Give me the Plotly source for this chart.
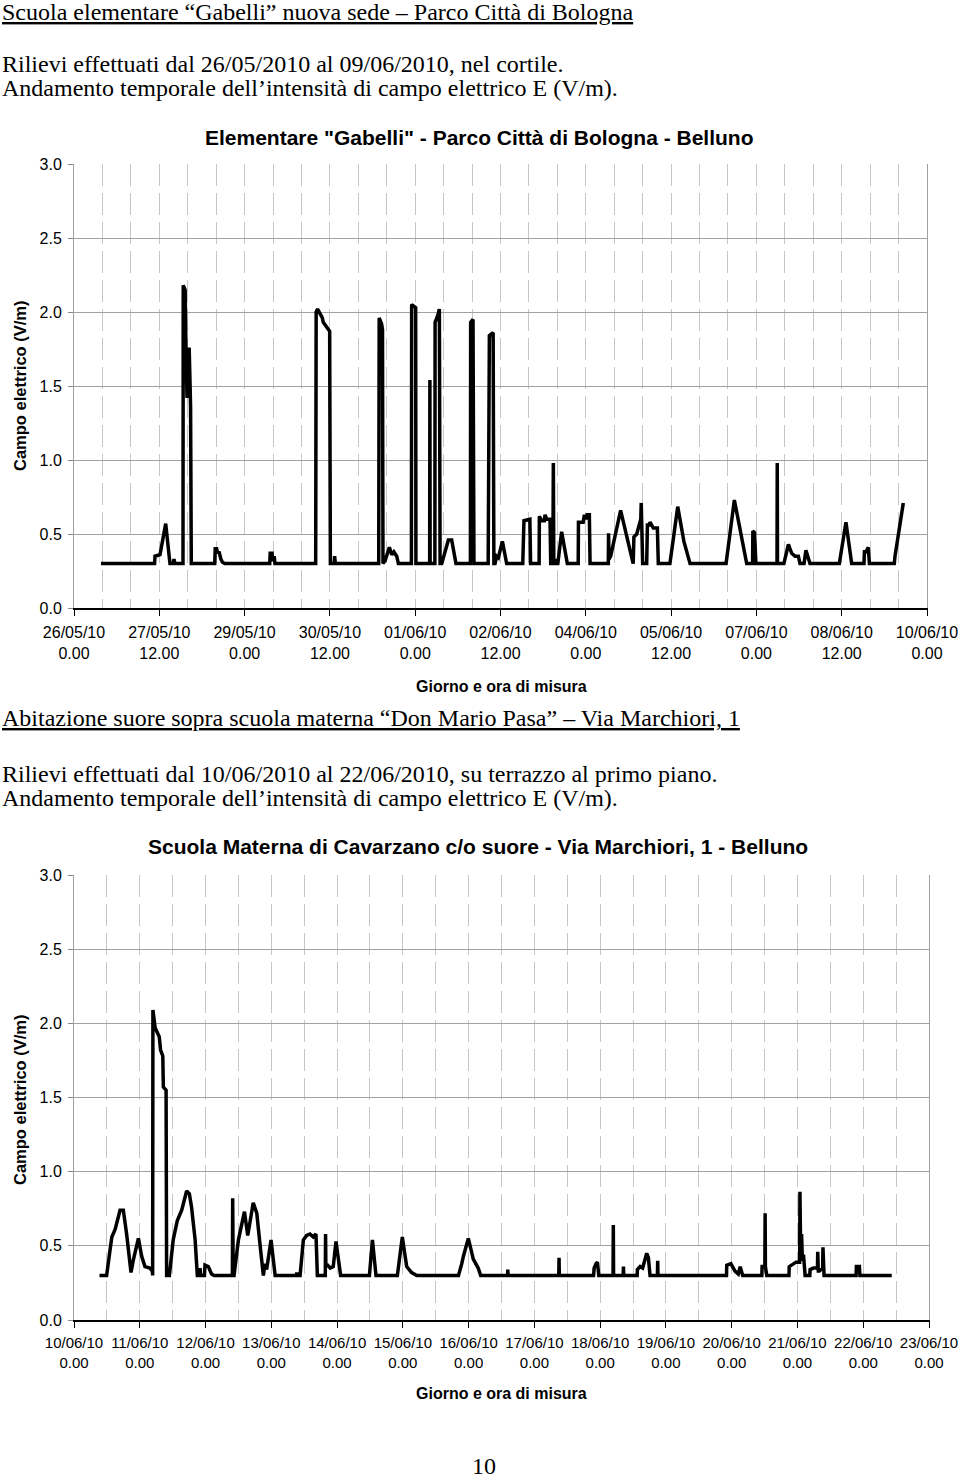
import pandas as pd
import plotly.graph_objects as go

# ---------------- data (hours from start of each campaign, V/m) ----------------
start1 = "2010-05-26 00:00"
end1 = "2010-06-10 00:00"
hours1 = [11.4, 34.0, 34.2, 36.3, 38.7, 40.5, 41.8, 42.2, 42.6,
          46.0, 46.1, 46.9, 47.3, 47.7, 48.1, 48.6, 49.0, 49.2, 49.5,
          59.4, 59.6, 60.2, 60.6, 61.2, 62.0, 62.6, 63.6,
          82.6, 82.8, 83.6, 83.8, 84.4, 84.5, 84.8,
          102.0, 102.2, 102.8, 103.4, 104.0, 104.8, 105.2, 106.6, 107.9, 108.2,
          109.8, 110.0, 110.3,
          128.6, 128.8, 129.8, 130.2, 130.4, 131.3, 133.1, 134.1, 135.0, 136.2, 136.9,
          142.4, 142.5, 143.6, 144.2, 144.3,
          150.1, 150.2, 150.3,
          152.3, 152.4, 153.6, 154.2, 154.5, 155.2, 156.6, 158.0, 159.4, 161.2,
          167.3, 167.4, 168.4, 168.8,
          174.8, 174.9, 175.1, 175.3, 176.9, 177.2, 177.7, 178.4, 179.1, 180.8, 182.6,
          189.4, 189.9, 192.4, 192.7,
          196.3, 196.4, 197.4, 198.5, 198.8, 199.5, 200.9, 201.2,
          202.1, 202.3, 202.5, 203.0, 203.4, 204.2, 205.8, 208.2,
          212.8, 212.9, 214.9, 215.4, 216.1, 216.6, 217.5, 217.8,
          225.5, 225.6, 225.8, 226.5, 230.7, 236.0, 236.3, 237.5, 238.6, 239.2, 239.4,
          239.7, 240.0, 241.7, 242.0, 242.8, 243.1, 243.8, 244.5, 246.2, 246.6,
          251.5, 254.8, 257.4, 260.0,
          275.2, 278.7, 283.9,
          286.4, 286.5, 287.2, 287.8,
          296.7, 296.8, 296.9,
          299.6, 301.5, 302.9, 304.3, 305.7, 306.4, 308.1, 308.9, 310.6,
          323.0, 325.8, 328.2,
          333.4, 333.6, 334.3, 335.2, 335.7,
          346.2, 346.5, 350.0]
values1 = [0.30, 0.30, 0.35, 0.36, 0.57, 0.30, 0.30, 0.33, 0.30,
           0.30, 2.18, 2.15, 1.70, 1.42, 1.65, 1.76, 1.50, 1.36, 0.30,
           0.30, 0.40, 0.40, 0.37, 0.38, 0.33, 0.31, 0.30,
           0.30, 0.37, 0.37, 0.32, 0.33, 0.35, 0.30,
           0.30, 2.00, 2.02, 2.00, 1.98, 1.96, 1.93, 1.90, 1.87, 0.30,
           0.30, 0.35, 0.30,
           0.30, 1.96, 1.92, 1.88, 0.30, 0.32, 0.41, 0.36, 0.38, 0.35, 0.30,
           0.30, 2.05, 2.04, 2.03, 0.30,
           0.30, 1.54, 0.30,
           0.30, 1.93, 1.98, 2.02, 0.30, 0.30, 0.38, 0.46, 0.46, 0.30,
           0.30, 1.93, 1.95, 0.30,
           0.30, 1.16, 0.30, 1.84, 1.86, 0.30, 0.30, 0.35, 0.34, 0.45, 0.30,
           0.30, 0.59, 0.60, 0.30,
           0.30, 0.62, 0.59, 0.59, 0.63, 0.60, 0.60, 0.30,
           0.30, 0.98, 0.30, 0.33, 0.30, 0.30, 0.515, 0.30,
           0.30, 0.58, 0.58, 0.63, 0.60, 0.63, 0.63, 0.30,
           0.30, 0.505, 0.33, 0.35, 0.66, 0.30, 0.48, 0.50, 0.56, 0.60, 0.71,
           0.55, 0.30, 0.30, 0.56, 0.56, 0.58, 0.56, 0.54, 0.54, 0.30,
           0.30, 0.685, 0.45, 0.30,
           0.30, 0.73, 0.30,
           0.30, 0.52, 0.51, 0.30,
           0.30, 0.98, 0.30,
           0.30, 0.43, 0.37, 0.35, 0.35, 0.30, 0.30, 0.39, 0.30,
           0.30, 0.58, 0.30,
           0.30, 0.38, 0.38, 0.41, 0.30,
           0.30, 0.35, 0.71]

start2 = "2010-06-10 00:00"
end2 = "2010-06-23 00:00"
hours2 = [9.3, 11.9, 13.8, 15.0, 16.8, 18.0, 19.2, 20.4, 20.8, 21.6, 23.5, 24.7, 25.9, 27.7, 28.6,
          28.7, 28.8, 29.6, 30.2, 31.1, 31.6, 32.4, 32.6, 33.6, 33.8,
          34.8, 36.2, 37.7, 39.3, 41.1, 42.1, 42.9, 44.2, 45.0,
          45.8, 46.0, 46.2, 47.6, 47.8, 49.0, 50.2, 51.1,
          57.8, 57.9, 58.1, 58.4, 60.0, 62.2, 63.4, 65.4, 66.7, 68.1, 69.1,
          69.7, 70.3, 71.9, 73.4,
          81.2, 81.3, 81.5,
          82.5, 83.7, 84.9, 86.1, 87.3, 88.3, 88.8,
          91.7, 91.8, 91.9, 92.5, 93.5, 94.6, 95.6, 97.3,
          107.8, 108.9, 110.2,
          118.0, 119.8, 121.4, 123.2, 125.1,
          140.3, 141.5, 142.1, 143.9, 145.7, 147.5, 148.4,
          158.2, 158.3, 158.4,
          176.9, 177.0, 177.1,
          189.6, 189.8, 190.5, 191.0, 191.5,
          196.7, 196.8, 196.9,
          200.4, 200.5, 200.6,
          205.5, 205.6, 206.6, 207.5, 209.0, 209.6, 210.2,
          212.9, 213.0, 213.1,
          238.1, 238.2, 239.7, 241.2, 242.4, 243.1, 244.0,
          251.0, 251.1, 252.1, 252.2, 252.3, 252.8,
          260.9, 261.0, 262.5, 263.5, 264.8, 264.9, 265.2, 265.5, 265.8, 266.2, 266.8,
          268.5, 268.6, 269.8, 271.3, 271.4, 271.6, 272.0, 273.2, 273.3, 273.5, 273.7,
          285.4, 285.5, 286.6, 286.8,
          298.4]
values2 = [0.30, 0.30, 0.56, 0.61, 0.74, 0.74, 0.58, 0.38, 0.32, 0.40, 0.55, 0.43, 0.36, 0.35, 0.33,
           0.30, 2.09, 1.97, 1.94, 1.91, 1.82, 1.78, 1.57, 1.55, 0.30,
           0.30, 0.54, 0.67, 0.74, 0.87, 0.85, 0.76, 0.54, 0.30,
           0.30, 0.35, 0.30, 0.30, 0.37, 0.36, 0.31, 0.30,
           0.30, 0.82, 0.30, 0.30, 0.54, 0.73, 0.57, 0.79, 0.72, 0.47, 0.30,
           0.38, 0.34, 0.54, 0.30,
           0.30, 0.32, 0.30,
           0.30, 0.54, 0.57, 0.58, 0.56, 0.58, 0.30,
           0.30, 0.58, 0.37, 0.37, 0.35, 0.36, 0.53, 0.30,
           0.30, 0.54, 0.30,
           0.30, 0.56, 0.36, 0.32, 0.30,
           0.30, 0.38, 0.43, 0.55, 0.41, 0.35, 0.30,
           0.30, 0.34, 0.30,
           0.30, 0.42, 0.30,
           0.30, 0.35, 0.38, 0.39, 0.30,
           0.30, 0.64, 0.30,
           0.30, 0.36, 0.30,
           0.30, 0.34, 0.36, 0.35, 0.45, 0.42, 0.30,
           0.30, 0.40, 0.30,
           0.30, 0.37, 0.38, 0.33, 0.31, 0.36, 0.30,
           0.30, 0.36, 0.36, 0.72, 0.36, 0.30,
           0.30, 0.36, 0.38, 0.39, 0.39, 0.865, 0.40, 0.58, 0.40, 0.44, 0.30,
           0.30, 0.34, 0.35, 0.35, 0.46, 0.33, 0.33, 0.35, 0.49, 0.33, 0.30,
           0.30, 0.36, 0.36, 0.30,
           0.30]

title1 = "Elementare \"Gabelli\" - Parco Città di Bologna - Belluno"
title2 = "Scuola Materna di Cavarzano c/o suore - Via Marchiori, 1 - Belluno"
ytitle = "Campo elettrico (V/m)"
xtitle = "Giorno e ora di misura"

# ---------------- figure ----------------
W, H = 960, 1478
def py(p):
    return 1 - p / H
def px(p):
    return p / W

t1 = pd.Timestamp(start1) + pd.to_timedelta(hours1, unit="h")
t2 = pd.Timestamp(start2) + pd.to_timedelta(hours2, unit="h")

fig = go.Figure()
fig.add_trace(go.Scatter(x=t1, y=values1, mode="lines", xaxis="x", yaxis="y",
                         line=dict(color="black", width=3.5), showlegend=False))
fig.add_trace(go.Scatter(x=t2, y=values2, mode="lines", xaxis="x2", yaxis="y2",
                         line=dict(color="black", width=3.5), showlegend=False))

SANS = "Liberation Sans"
SERIF = "Liberation Serif"
HGRID = "#a0a0a0"
VGRID = "#c6c6c6"
VDASH = "22px,7px"
HOUR = 3600 * 1000

def xaxis(domain, anchor, rng, dtick, size, standoff):
    return dict(domain=domain, anchor=anchor, type="date", range=rng,
                tick0=rng[0], dtick=dtick, tickformat="%d/%m/%y<br>%-H.%M",
                ticks="outside", ticklen=6, tickcolor="black", tickwidth=1,
                showline=True, linecolor="black", linewidth=2,
                showgrid=True, gridcolor=VGRID, griddash=VDASH, gridwidth=1,
                minor=dict(dtick=12 * HOUR, tick0=rng[0], showgrid=True,
                           gridcolor=VGRID, griddash=VDASH, gridwidth=1),
                tickfont=dict(family=SANS, size=size, color="black"),
                ticklabelstandoff=standoff, zeroline=False, fixedrange=True,
                automargin=False)

def yaxis(domain, anchor):
    return dict(domain=domain, anchor=anchor, range=[0, 3], dtick=0.5, tick0=0,
                tickformat=".1f", ticks="outside", ticklen=5, tickcolor="#888888",
                showline=True, linecolor="#a0a0a0", linewidth=1, mirror=True,
                showgrid=True, gridcolor=HGRID, gridwidth=1, zeroline=False,
                tickfont=dict(family=SANS, size=16, color="black"),
                ticklabelstandoff=3, fixedrange=True, automargin=False)

fig.update_layout(
    width=W, height=H, margin=dict(l=0, r=0, t=0, b=0, pad=0, autoexpand=False),
    paper_bgcolor="white", plot_bgcolor="white",
    xaxis=xaxis([px(74), px(927)], "y", [start1, end1], 36 * HOUR, 16, 3),
    yaxis=yaxis([py(608), py(164)], "x"),
    xaxis2=xaxis([px(74), px(929)], "y2", [start2, end2], 24 * HOUR, 15, 2),
    yaxis2=yaxis([py(1320), py(875)], "x2"),
)

def note(text, x, y, size, family, xanchor="left", bold=False, angle=0):
    fig.add_annotation(text=("<b>%s</b>" % text) if bold else text,
                       xref="paper", yref="paper", x=px(x), y=py(y),
                       xanchor=xanchor, yanchor="middle", showarrow=False,
                       textangle=angle, borderpad=0,
                       font=dict(family=family, size=size, color="black"))

TS = 24
note("<u>Scuola elementare “Gabelli” nuova sede – Parco Città di Bologna</u>", 1, 12, TS, SERIF)
note("Rilievi effettuati dal 26/05/2010 al 09/06/2010, nel cortile.", 1, 64, TS, SERIF)
note("Andamento temporale dell’intensità di campo elettrico E (V/m).", 1, 88, TS, SERIF)
note(title1, 479, 137, 21, SANS, "center", True)
note(ytitle, 20, 386, 16.5, SANS, "center", True, -90)
note(xtitle, 501, 686, 16, SANS, "center", True)

note("<u>Abitazione suore sopra scuola materna “Don Mario Pasa” – Via Marchiori, 1</u>", 1, 718, TS, SERIF)
note("Rilievi effettuati dal 10/06/2010 al 22/06/2010, su terrazzo al primo piano.", 1, 774, TS, SERIF)
note("Andamento temporale dell’intensità di campo elettrico E (V/m).", 1, 798, TS, SERIF)
note(title2, 478, 846, 21, SANS, "center", True)
note(ytitle, 20, 1100, 16.5, SANS, "center", True, -90)
note(xtitle, 501, 1393, 16, SANS, "center", True)
note("10", 484, 1466, TS, SERIF, "center")

fig.write_html("out.html")
